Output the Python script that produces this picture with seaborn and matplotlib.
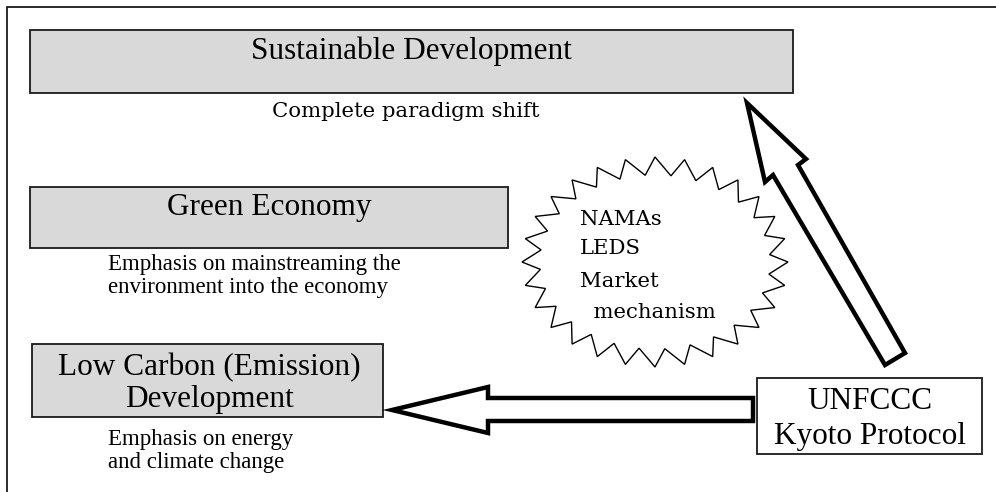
import numpy as np
import matplotlib
matplotlib.use("Agg")
import matplotlib.pyplot as plt
import seaborn as sns
from matplotlib.patches import Rectangle, Polygon

sns.set_theme(style="white")
plt.rcParams['font.family'] = ['Liberation Serif', 'DejaVu Serif']

# ---- content ----
box_titles = ["Sustainable Development", "Green Economy", "Low Carbon (Emission)\nDevelopment"]
box_notes = ["Complete paradigm shift",
             "Emphasis on mainstreaming the\nenvironment into the economy",
             "Emphasis on energy\nand climate change"]
source_label = ["UNFCCC", "Kyoto Protocol"]
burst_items = ["NAMAs", "LEDS", "Market", "  mechanism"]

# ---- layout (pixel coordinates, y downwards) ----
boxes = [(30, 30, 793, 93), (30, 187, 508, 248), (32, 344, 383, 417)]
source_box = (757, 378, 982, 454)

fig = plt.figure(figsize=(9.96, 4.92), dpi=100)
ax = fig.add_axes([0, 0, 1, 1])
ax.set_xlim(0, 996)
ax.set_ylim(492, 0)
ax.axis('off')

edge = '#1a1a1a'
gray = '#d9d9d9'

# outer frame
ax.plot([7, 7, 996], [492, 7, 7], color=edge, lw=1.3, solid_joinstyle='miter')

for (x0, y0, x1, y1) in boxes:
    ax.add_patch(Rectangle((x0, y0), x1 - x0, y1 - y0, facecolor=gray,
                           edgecolor=edge, lw=1.3))

# titles
ax.text(411.5, 59, box_titles[0], ha='center', va='baseline', fontsize=22.5, color='black')
ax.text(269, 215, box_titles[1], ha='center', va='baseline', fontsize=22.5, color='black')
l1, l2 = box_titles[2].split("\n")
ax.text(209, 375, l1, ha='center', va='baseline', fontsize=22.5, color='black')
ax.text(209, 407, l2, ha='center', va='baseline', fontsize=22.5, color='black')

# notes
ax.text(406, 117, box_notes[0], ha='center', va='baseline', fontsize=15.3,
        family=['DejaVu Serif'], color='black')
n1, n2 = box_notes[1].split("\n")
ax.text(108, 270, n1, ha='left', va='baseline', fontsize=16.5, color='black')
ax.text(108, 293, n2, ha='left', va='baseline', fontsize=16.5, color='black')
n1, n2 = box_notes[2].split("\n")
ax.text(108, 445, n1, ha='left', va='baseline', fontsize=16.5, color='black')
ax.text(108, 468, n2, ha='left', va='baseline', fontsize=16.5, color='black')

# source box
x0, y0, x1, y1 = source_box
ax.add_patch(Rectangle((x0, y0), x1 - x0, y1 - y0, facecolor='white', edgecolor=edge, lw=1.3))
ax.text(869.5, 409, source_label[0], ha='center', va='baseline', fontsize=22.5, color='black')
ax.text(869.5, 444, source_label[1], ha='center', va='baseline', fontsize=22.5, color='black')

# starburst (sawtooth seal)
n_spikes = 28
cx, cy, a_out, b_out, a_in, b_in = 655, 262, 133, 105, 115, 87
step = 2 * np.pi / n_spikes
k = np.arange(n_spikes)
ang_out = k * step - np.pi / 2
ang_in = ang_out + 0.62 * step
ang = np.empty(2 * n_spikes)
ang[0::2] = ang_out
ang[1::2] = ang_in
ra = np.empty(2 * n_spikes); ra[0::2] = a_out; ra[1::2] = a_in
rb = np.empty(2 * n_spikes); rb[0::2] = b_out; rb[1::2] = b_in
pts = np.column_stack([cx + ra * np.cos(ang), cy + rb * np.sin(ang)])
ax.add_patch(Polygon(pts, closed=True, facecolor='white', edgecolor='black', lw=1.0,
                     joinstyle='miter'))
for txt, yb in zip(burst_items, [225, 254, 287, 318]):
    ax.text(580, yb, txt, ha='left', va='baseline', fontsize=15.3,
            family=['DejaVu Serif'], color='black')

# arrows
left_arrow = [(392, 410), (488, 387), (488, 398), (753, 398), (753, 421), (488, 421), (488, 433)]
up_arrow = [(747, 103), (806, 159), (798, 165), (905, 353), (885, 365), (773, 175), (765, 182)]
for poly in (left_arrow, up_arrow):
    ax.add_patch(Polygon(poly, closed=True, facecolor='white', edgecolor='black', lw=3.2,
                         joinstyle='miter'))

fig.savefig("out.png", dpi=100)
